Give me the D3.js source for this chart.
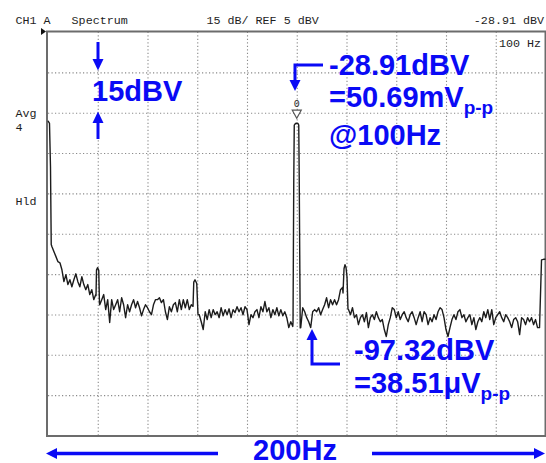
<!DOCTYPE html>
<html>
<head>
<meta charset="utf-8">
<script src="https://cdn.jsdelivr.net/npm/d3@7"></script>
<style>
  html, body { margin: 0; padding: 0; background: #fff; }
  svg { display: block; }
  .mono { font-family: "Liberation Mono", "DejaVu Sans Mono", monospace; font-size: 11.7px; fill: #1e1e1e; white-space: pre; }
  .note { font-family: "Liberation Sans", Arial, sans-serif; font-weight: bold; font-size: 29px; fill: #0a0af5; }
</style>
</head>
<body>
<svg id="chart" width="546" height="463"></svg>
<script>
// Analyzer settings
const refDbv = 5;          // top of screen
const dbPerDiv = 15;
const spanHz = 200;
const divisions = 10;

// Grid positions (every division)
const xGridHz = [20, 40, 60, 80, 100, 120, 140, 160, 180];
const yGridDbv = [-10, -25, -40, -55, -70, -85, -100, -115, -130];

// Averaged spectrum, one value per 0.8 Hz bin (null = bin drawn by a spike outline below)
const binStepHz = 0.8;
const traceDbv = [
  null, null, -74.8, -76.7, -78.5, -80.4, -80.8, -83.4, -87.8, -85.2,
  -88.9, -87.1, -89.7, -87.1, -84.9, -87.8, -89.7, -86.0, -88.9, -90.8,
  -88.9, -92.6, -90.8, -94.5, -92.6, null, -96.4, -94.5, -92.6, -98.2,
  -94.5, -103.0, -94.5, -98.2, -96.4, -94.5, -99.0, -93.8, -96.4, -101.2,
  -96.4, -99.0, -96.4, -94.5, -97.5, -95.2, -97.5, -100.5, -98.2, -96.4,
  -97.5, -99.0, -100.1, -96.4, -94.5, -94.5, -93.8, -95.6, -94.5, -99.0,
  -101.9, -97.1, -99.0, -96.4, -95.6, -99.0, -94.5, -98.2, -94.5, -97.5,
  -94.5, -98.2, -96.4, null, null, null, -100.1, -102.7, -105.6, -99.0,
  -101.9, -98.2, -101.2, -98.2, -100.1, -99.0, -101.2, -97.5, -100.5, -98.2,
  -100.1, -97.9, -101.2, -98.2, -99.3, -97.1, -99.0, -97.5, -100.1, -97.1,
  -98.2, -103.8, -100.1, -101.2, -99.0, -98.2, -101.2, -97.1, -99.0, -95.2,
  -99.0, -97.5, -101.2, -98.2, -100.1, -97.5, -100.5, -98.2, -100.5, -99.0,
  -101.2, -104.9, -102.7, -104.5, null, null, null, -104.9, -97.5, -99.0,
  -101.2, -102.7, -104.9, -99.0, -98.2, -99.0, -97.5, -100.1, -98.2, -96.4,
  -93.8, -97.5, -94.5, -96.4, -94.5, -96.4, -94.5, -90.8, -90.0, null,
  null, -98.2, -100.1, -97.5, -101.2, -100.1, -103.8, -101.2, -100.1, -102.7,
  -99.3, -104.9, -101.2, -100.1, -101.9, -99.0, -101.2, -102.7, -101.9, -105.6,
  -108.2, -103.8, -101.2, -97.5, -98.2, -101.2, -99.0, -101.9, -100.1, -99.0,
  -101.2, -102.7, -100.1, -99.0, -101.2, -103.8, -101.2, -99.0, -102.7, -99.0,
  -100.1, -103.8, -101.2, -102.7, -100.1, -101.9, -99.0, -97.5, -98.2, -101.2,
  -105.6, -108.2, -104.9, -101.9, -100.1, -101.9, -99.0, -98.2, -101.2, -100.1,
  -102.7, -101.2, -100.1, -103.8, -101.2, -105.6, -102.7, -101.2, -102.7, -99.0,
  -101.2, -98.2, -101.9, -98.2, -103.8, -101.2, -100.1, -99.0, -101.2, -102.7,
  -100.1, -101.2, -102.7, -104.9, -101.9, -101.2, -102.7, -107.5, -101.2, -101.9,
  -103.8, -101.2, -102.7, -101.2, -103.8, -101.9, -104.9, -104.9, -79.7, -79.5,
  -79.5
];

// Spike outlines (DC, 20 Hz, 60 Hz, 100 Hz fundamental, 120 Hz)
const spikeHz = [
  [0, 0.6, 1.0, 1.3],
  [19.3, 19.5, 19.9, 20.4, 20.7],
  [58.3, 58.6, 59.1, 59.8, 60.3],
  [98.5, 98.8, 99.0, 99.5, 100.0, 100.5, 100.8, 101.0, 101.4],
  [118.6, 119.0, 119.4, 119.8, 120.2, 120.6]
];
const spikeDbv = [
  [-28.0, -29.0, -45.0, -74.0],
  [-93.0, -83.5, -82.6, -83.6, -96.0],
  [-97.0, -88.0, -87.1, -88.5, -100.0],
  [-103.0, -50.0, -29.6, -29.0, -28.91, -29.0, -29.6, -50.0, -105.0],
  [-92.0, -83.0, -81.5, -82.5, -86.0, -98.0]
];

// Marker readout
const markerHz = 100;
const markerDbv = -28.91;

const headerLeft = "CH1 A   Spectrum";
const headerMid = "15 dB/ REF 5 dBV";
const headerRight = "-28.91 dBV";
const markerFreqText = "100 Hz";
const sideLabels = [["Avg", 117], ["4", 131], ["Hld", 205]];

const svg = d3.select("#chart");
const blue = "#0a0af5";

const plotLeft = 48, plotRight = 545.5, plotTop = 32, plotBottom = 435.5;
const x = d3.scaleLinear().domain([0, spanHz]).range([plotLeft, plotRight]);
const y = d3.scaleLinear().domain([refDbv, refDbv - dbPerDiv * divisions]).range([plotTop, plotBottom]);

// dotted graticule through axes
const gridX = svg.append("g")
  .attr("transform", `translate(0,${plotBottom})`)
  .call(d3.axisBottom(x).tickValues(xGridHz).tickSize(-(plotBottom - plotTop)).tickFormat(""));
const gridY = svg.append("g")
  .attr("transform", `translate(${plotLeft},0)`)
  .call(d3.axisLeft(y).tickValues(yGridDbv).tickSize(-(plotRight - plotLeft)).tickFormat(""));
[gridX, gridY].forEach(g => {
  g.select(".domain").remove();
  g.selectAll(".tick line")
    .attr("stroke", "#8a8a8a")
    .attr("stroke-width", 1.1)
    .attr("stroke-dasharray", "1.2,2.3");
});

// frame
svg.append("rect")
  .attr("x", plotLeft - 1).attr("y", plotTop - 0.5)
  .attr("width", plotRight - plotLeft + 1).attr("height", plotBottom - plotTop + 1)
  .attr("fill", "none").attr("stroke", "#6c6c6c").attr("stroke-width", 2);

// trace
const points = [];
traceDbv.forEach((v, i) => { if (v !== null) points.push({ hz: i * binStepHz, dbv: v }); });
spikeHz.forEach((list, s) => list.forEach((hz, j) => points.push({ hz, dbv: spikeDbv[s][j] })));
points.sort((a, b) => a.hz - b.hz);

svg.append("path")
  .datum(points)
  .attr("fill", "none")
  .attr("stroke", "#1c1c1c")
  .attr("stroke-width", 1.4)
  .attr("stroke-linejoin", "round")
  .attr("d", d3.line().x(d => x(d.hz)).y(d => y(d.dbv)));

// marker symbol on the fundamental
const mx = x(markerHz), my = y(markerDbv);
svg.append("path")
  .attr("d", `M${mx - 4.5},${my - 13}L${mx + 4.5},${my - 13}L${mx},${my - 5}Z`)
  .attr("fill", "#fff").attr("stroke", "#555").attr("stroke-width", 1.2);
svg.append("text").attr("class", "mono")
  .attr("x", mx).attr("y", my - 16).attr("text-anchor", "middle")
  .style("font-size", "10px").text("0");

// instrument header text
svg.append("text").attr("class", "mono").attr("x", 15.5).attr("y", 23.5).text(headerLeft);
svg.append("text").attr("class", "mono").attr("x", 206.5).attr("y", 23.5).text(headerMid);
svg.append("text").attr("class", "mono").attr("x", 544).attr("y", 23.5).attr("text-anchor", "end").text(headerRight);
svg.append("text").attr("class", "mono").attr("x", 541).attr("y", 47).attr("text-anchor", "end").text(markerFreqText);
sideLabels.forEach(([t, yy]) =>
  svg.append("text").attr("class", "mono").attr("x", 15.5).attr("y", yy).text(t));
svg.append("path").attr("d", "M41,28L46,31.5L41,35Z").attr("fill", "#111");

// blue annotations
function stem(pts, w) {
  svg.append("path").attr("d", d3.line()(pts))
    .attr("fill", "none").attr("stroke", blue).attr("stroke-width", w || 3);
}
function head(pts) {
  svg.append("path").attr("d", d3.line()(pts) + "Z").attr("fill", blue);
}

// scale-per-division marker
stem([[98, 42], [98, 61]]);
head([[92.5, 59], [103.5, 59], [98, 70.5]]);
stem([[98, 121], [98, 139]]);
head([[92.5, 123], [103.5, 123], [98, 111.5]]);
svg.append("text").attr("class", "note").attr("x", 92).attr("y", 101).text("15dBV");

// fundamental readout
stem([[323, 65], [295, 65], [295, 82]]);
head([[289.5, 80], [300.5, 80], [295, 91]]);
svg.append("text").attr("class", "note").attr("x", 329).attr("y", 75).text("-28.91dBV");
const t2 = svg.append("text").attr("class", "note").attr("x", 329).attr("y", 107);
t2.append("tspan").text("=50.69mV");
t2.append("tspan").attr("dy", 7).style("font-size", "19px").text("p-p");
svg.append("text").attr("class", "note").attr("x", 329).attr("y", 145).text("@100Hz");

// noise floor readout
stem([[312, 338], [312, 364], [340, 364]]);
head([[306.5, 340], [317.5, 340], [312, 329]]);
svg.append("text").attr("class", "note").attr("x", 354).attr("y", 360).text("-97.32dBV");
const t3 = svg.append("text").attr("class", "note").attr("x", 354).attr("y", 393);
t3.append("tspan").text("=38.51\u03bcV");
t3.append("tspan").attr("dy", 7).style("font-size", "19px").text("p-p");

// span arrows
stem([[56, 453.5], [218, 453.5]], 3.5);
head([[46, 453.5], [57, 448], [57, 459]]);
stem([[372, 453.5], [535, 453.5]], 3.5);
head([[545, 453.5], [534, 448], [534, 459]]);
svg.append("text").attr("class", "note").attr("x", 295).attr("y", 460).attr("text-anchor", "middle").text("200Hz");
</script>
</body>
</html>
